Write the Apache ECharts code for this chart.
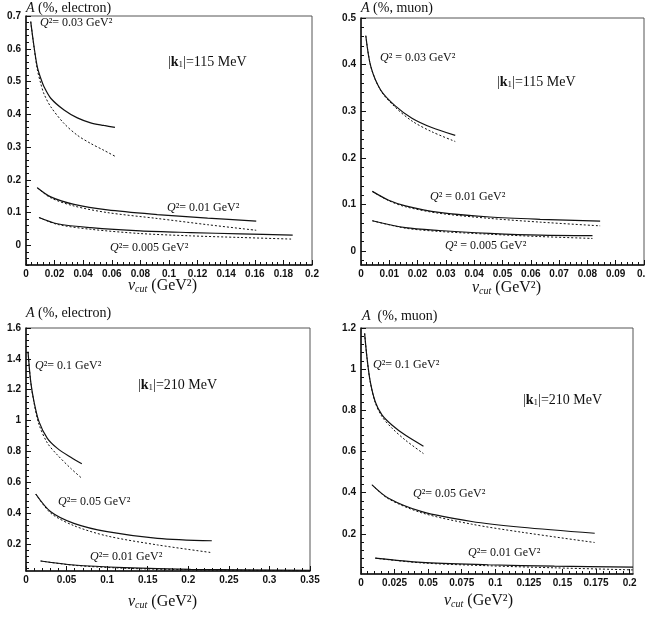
<!DOCTYPE html>
<html>
<head>
<meta charset="utf-8">
<script src="https://cdn.jsdelivr.net/npm/echarts@6/dist/echarts.min.js"></script>
<style>
  html, body { margin: 0; padding: 0; background: #fff; }
  #chart { width: 645px; height: 618px; }
</style>
</head>
<body>
<div id="chart"></div>
<script>
// ---- panel 1: electron, |k1| = 115 MeV ----
const e115_q03_x = [0.0033, 0.0056, 0.0079, 0.0103, 0.0126, 0.0173, 0.0266, 0.0359, 0.0452, 0.0545, 0.0622];
const e115_q03_full = [0.683, 0.607, 0.545, 0.510, 0.484, 0.449, 0.413, 0.389, 0.374, 0.366, 0.360];
const e115_q03_dash = [0.683, 0.605, 0.537, 0.494, 0.462, 0.423, 0.372, 0.336, 0.311, 0.290, 0.272];
const e115_q01_x = [0.0079, 0.0173, 0.0336, 0.0569, 0.0918, 0.127, 0.161];
const e115_q01_full = [0.176, 0.148, 0.125, 0.108, 0.094, 0.083, 0.074];
const e115_q01_dash = [0.176, 0.145, 0.120, 0.100, 0.082, 0.063, 0.046];
const e115_q005_x = [0.0091, 0.0219, 0.0452, 0.080, 0.115, 0.150, 0.1865];
const e115_q005_full = [0.085, 0.066, 0.054, 0.044, 0.039, 0.035, 0.031];
const e115_q005_dash = [0.085, 0.064, 0.049, 0.036, 0.029, 0.024, 0.019];

// ---- panel 2: muon, |k1| = 115 MeV ----
const m115_q03_x = [0.0017, 0.0035, 0.007, 0.012, 0.018, 0.025, 0.0333];
const m115_q03_full = [0.462, 0.395, 0.345, 0.312, 0.285, 0.265, 0.248];
const m115_q03_dash = [0.462, 0.395, 0.344, 0.309, 0.279, 0.256, 0.235];
const m115_q01_x = [0.004, 0.0098, 0.0157, 0.0276, 0.0455, 0.0633, 0.0845];
const m115_q01_full = [0.128, 0.109, 0.097, 0.083, 0.073, 0.068, 0.064];
const m115_q01_dash = [0.128, 0.108, 0.095, 0.081, 0.070, 0.062, 0.054];
const m115_q005_x = [0.004, 0.0157, 0.0276, 0.0455, 0.0633, 0.0818];
const m115_q005_full = [0.065, 0.050, 0.044, 0.038, 0.034, 0.033];
const m115_q005_dash = [0.065, 0.049, 0.042, 0.036, 0.031, 0.027];

// ---- panel 3: electron, |k1| = 210 MeV ----
const e210_q1_x = [0.0025, 0.0058, 0.0099, 0.016, 0.0263, 0.0387, 0.0552, 0.0688];
const e210_q1_full = [1.446, 1.252, 1.122, 0.993, 0.885, 0.820, 0.762, 0.720];
const e210_q1_dash = [1.446, 1.250, 1.115, 0.975, 0.855, 0.777, 0.690, 0.626];
const e210_q05_x = [0.012, 0.0305, 0.059, 0.100, 0.162, 0.229];
const e210_q05_full = [0.524, 0.409, 0.334, 0.280, 0.237, 0.221];
const e210_q05_dash = [0.524, 0.400, 0.319, 0.252, 0.194, 0.144];
const e210_q01_x = [0.018, 0.059, 0.121, 0.203, 0.350];
const e210_q01_full = [0.090, 0.064, 0.047, 0.036, 0.030];
const e210_q01_dash = [0.090, 0.062, 0.043, 0.033, 0.027];

// ---- panel 4: muon, |k1| = 210 MeV ----
const m210_q1_x = [0.0027, 0.0045, 0.0069, 0.0106, 0.0156, 0.023, 0.0329, 0.0465];
const m210_q1_full = [1.174, 1.053, 0.939, 0.842, 0.778, 0.729, 0.680, 0.626];
const m210_q1_dash = [1.174, 1.053, 0.937, 0.838, 0.770, 0.714, 0.656, 0.590];
const m210_q05_x = [0.0082, 0.0205, 0.0453, 0.0824, 0.1196, 0.174];
const m210_q05_full = [0.438, 0.373, 0.308, 0.260, 0.232, 0.203];
const m210_q05_dash = [0.438, 0.370, 0.302, 0.247, 0.208, 0.158];
const m210_q01_x = [0.0106, 0.045, 0.0948, 0.144, 0.2025];
const m210_q01_full = [0.082, 0.061, 0.050, 0.043, 0.038];
const m210_q01_dash = [0.082, 0.059, 0.045, 0.035, 0.025];

// tick labels
const xTicks1 = [0, 0.02, 0.04, 0.06, 0.08, 0.1, 0.12, 0.14, 0.16, 0.18, 0.2];
const yTicks1 = [0, 0.1, 0.2, 0.3, 0.4, 0.5, 0.6, 0.7];
const xTicks2 = [0, 0.01, 0.02, 0.03, 0.04, 0.05, 0.06, 0.07, 0.08, 0.09, 0.1];
const yTicks2 = [0, 0.1, 0.2, 0.3, 0.4, 0.5];
const xTicks3 = [0, 0.05, 0.1, 0.15, 0.2, 0.25, 0.3, 0.35];
const yTicks3 = [0.2, 0.4, 0.6, 0.8, 1, 1.2, 1.4, 1.6];
const xTicks4 = [0, 0.025, 0.05, 0.075, 0.1, 0.125, 0.15, 0.175, 0.2];
const yTicks4 = [0.2, 0.4, 0.6, 0.8, 1, 1.2];

const SANS = 'Liberation Sans';
const SERIF = 'Liberation Serif';

// layout of the four frames
const panels = [
  { box: { left: 26, top: 16, width: 286, height: 249 }, x: [0, 0.2], y: [-0.06, 0.7], xt: xTicks1, yt: yTicks1, xm: 0.004, ym: 0.02 },
  { box: { left: 361, top: 18, width: 283, height: 247 }, x: [0, 0.1], y: [-0.03, 0.5], xt: xTicks2, yt: yTicks2, xm: 0.002, ym: 0.02 },
  { box: { left: 26, top: 328, width: 284, height: 243 }, x: [0, 0.35], y: [0.025, 1.6], xt: xTicks3, yt: yTicks3, xm: 0.01, ym: 0.04 },
  { box: { left: 361, top: 328, width: 272, height: 246 }, x: [0, 0.2025], y: [0.005, 1.2], xt: xTicks4, yt: yTicks4, xm: 0.005, ym: 0.04 }
];

// minor tick positions, stepping over the axis range
function minorTicks(min, max, step) {
  const out = [];
  const start = Math.ceil(min / step - 1e-9);
  for (let i = start; i * step <= max + 1e-9; i++) out.push(+(i * step).toFixed(6));
  return out;
}

const grids = [];
const xAxes = [];
const yAxes = [];
panels.forEach((p, i) => {
  grids.push(Object.assign({ show: true, borderColor: '#555', borderWidth: 1, outerBoundsMode: 'none' }, p.box));
  const common = { type: 'value', gridIndex: i, splitLine: { show: false } };
  // major axes: line, long ticks, labels
  xAxes.push(Object.assign({}, common, {
    min: p.x[0], max: p.x[1], position: 'bottom',
    axisLine: { show: true, onZero: false, lineStyle: { color: '#111', width: 1.5 } },
    axisTick: { show: true, inside: true, length: 5, customValues: p.xt, lineStyle: { color: '#111' } },
    axisLabel: { show: true, customValues: p.xt, margin: 4, color: '#111', fontFamily: SANS, fontWeight: 'bold', fontSize: 10 }
  }));
  xAxes.push(Object.assign({}, common, {
    min: p.x[0], max: p.x[1], position: 'bottom',
    axisLine: { show: false, onZero: false },
    axisTick: { show: true, inside: true, length: 3, customValues: minorTicks(p.x[0], p.x[1], p.xm), lineStyle: { color: '#111' } },
    axisLabel: { show: false }
  }));
  yAxes.push(Object.assign({}, common, {
    min: p.y[0], max: p.y[1], position: 'left',
    axisLine: { show: true, onZero: false, lineStyle: { color: '#111', width: 1.5 } },
    axisTick: { show: true, inside: true, length: 5, customValues: p.yt, lineStyle: { color: '#111' } },
    axisLabel: { show: true, customValues: p.yt, margin: 5, color: '#111', fontFamily: SANS, fontWeight: 'bold', fontSize: 10 }
  }));
  yAxes.push(Object.assign({}, common, {
    min: p.y[0], max: p.y[1], position: 'left',
    axisLine: { show: false, onZero: false },
    axisTick: { show: true, inside: true, length: 3, customValues: minorTicks(p.y[0], p.y[1], p.ym), lineStyle: { color: '#111' } },
    axisLabel: { show: false }
  }));
});

const curves = [
  [0, e115_q03_x, e115_q03_full, e115_q03_dash],
  [0, e115_q01_x, e115_q01_full, e115_q01_dash],
  [0, e115_q005_x, e115_q005_full, e115_q005_dash],
  [1, m115_q03_x, m115_q03_full, m115_q03_dash],
  [1, m115_q01_x, m115_q01_full, m115_q01_dash],
  [1, m115_q005_x, m115_q005_full, m115_q005_dash],
  [2, e210_q1_x, e210_q1_full, e210_q1_dash],
  [2, e210_q05_x, e210_q05_full, e210_q05_dash],
  [2, e210_q01_x, e210_q01_full, e210_q01_dash],
  [3, m210_q1_x, m210_q1_full, m210_q1_dash],
  [3, m210_q05_x, m210_q05_full, m210_q05_dash],
  [3, m210_q01_x, m210_q01_full, m210_q01_dash]
];

const series = [];
curves.forEach(([pi, xs, full, dash]) => {
  [[full, 'solid', 1.2], [dash, [2, 2], 1]].forEach(([ys, type, w]) => {
    series.push({
      type: 'line',
      xAxisIndex: pi * 2,
      yAxisIndex: pi * 2,
      data: xs.map((x, k) => [x, ys[k]]),
      showSymbol: false,
      smooth: 0.3,
      silent: true,
      lineStyle: { color: '#111', width: w, type: type }
    });
  });
});

// text helpers
const rich = {
  i: { fontStyle: 'italic', fontFamily: SERIF, fontSize: 12, fill: '#111' },
  b: { fontWeight: 'bold', fontFamily: SERIF, fontSize: 14, fill: '#111' },
  s: { fontFamily: SERIF, fontSize: 9, fill: '#111', verticalAlign: 'bottom' },
  ti: { fontStyle: 'italic', fontFamily: SERIF, fontSize: 14, fill: '#111' },
  vi: { fontStyle: 'italic', fontFamily: SERIF, fontSize: 16, fill: '#111' },
  cut: { fontStyle: 'italic', fontFamily: SERIF, fontSize: 10, fill: '#111', verticalAlign: 'bottom' }
};
function txt(left, top, text, size) {
  return { type: 'text', left: left, top: top, silent: true,
    style: { text: text, rich: rich, fontFamily: SERIF, fontSize: size, fill: '#111' } };
}
const yTitleE = '{ti|A} (%, electron)';
const yTitleM = '{ti|A} (%, muon)';
const xTitle = '{vi|v}{cut|cut} (GeV²)';

const graphic = [
  txt(26, 1, yTitleE, 14), txt(128, 278, xTitle, 16),
  txt(40, 17, '{i|Q}²= 0.03 GeV²', 12),
  txt(168, 55, '|{b|k}{s|1}|=115 MeV', 14),
  txt(167, 202, '{i|Q}²= 0.01 GeV²', 12),
  txt(110, 242, '{i|Q}²= 0.005 GeV²', 12),

  txt(361, 1, yTitleM, 14), txt(472, 280, xTitle, 16),
  txt(380, 52, '{i|Q}² = 0.03 GeV²', 12),
  txt(497, 75, '|{b|k}{s|1}|=115 MeV', 14),
  txt(430, 191, '{i|Q}² = 0.01 GeV²', 12),
  txt(445, 240, '{i|Q}² = 0.005 GeV²', 12),

  txt(26, 306, yTitleE, 14), txt(128, 594, xTitle, 16),
  txt(35, 360, '{i|Q}²= 0.1 GeV²', 12),
  txt(138, 378, '|{b|k}{s|1}|=210 MeV', 14),
  txt(58, 496, '{i|Q}²= 0.05 GeV²', 12),
  txt(90, 551, '{i|Q}²= 0.01 GeV²', 12),

  txt(362, 309, '{ti|A}  (%, muon)', 14), txt(444, 593, xTitle, 16),
  txt(373, 359, '{i|Q}²= 0.1 GeV²', 12),
  txt(523, 393, '|{b|k}{s|1}|=210 MeV', 14),
  txt(413, 488, '{i|Q}²= 0.05 GeV²', 12),
  txt(468, 547, '{i|Q}²= 0.01 GeV²', 12)
];

const chart = echarts.init(document.getElementById('chart'));
chart.setOption({
  animation: false,
  backgroundColor: '#fff',
  grid: grids,
  xAxis: xAxes,
  yAxis: yAxes,
  series: series,
  graphic: graphic
});
</script>
</body>
</html>
